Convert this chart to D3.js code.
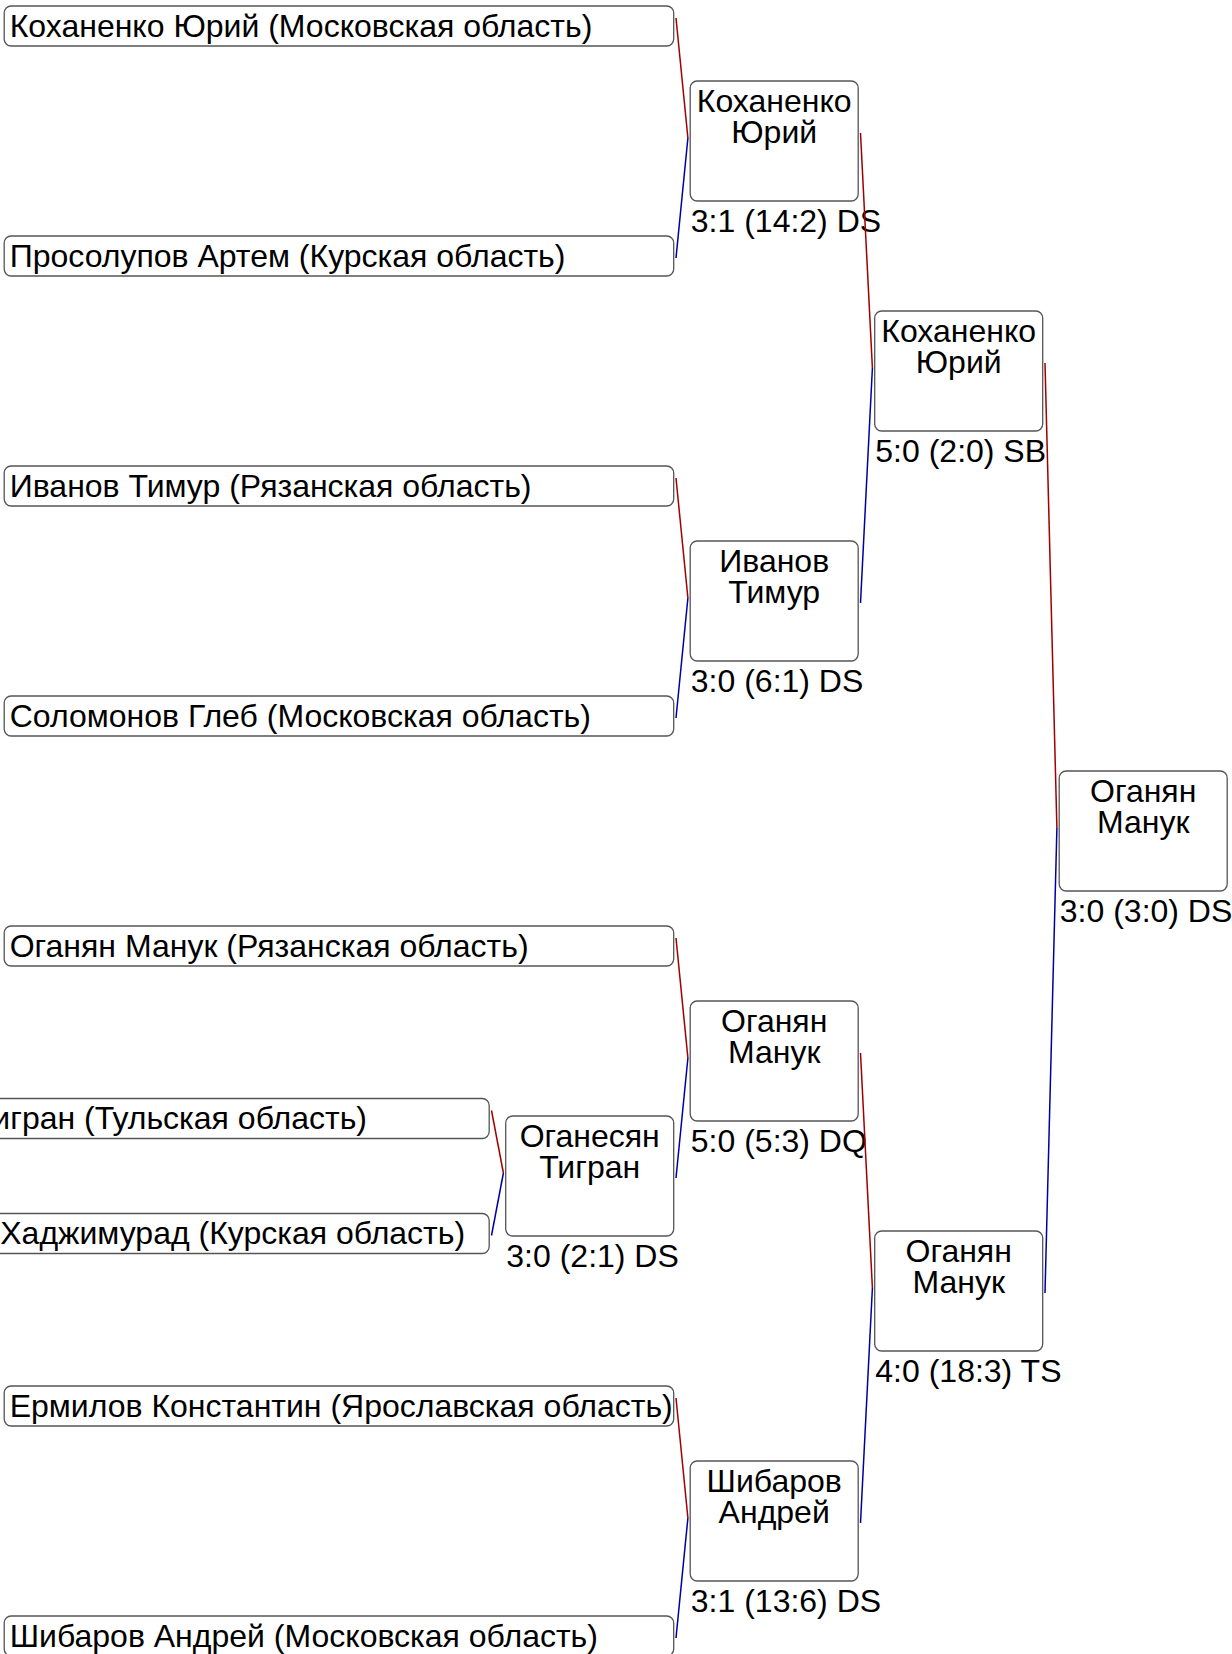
<!DOCTYPE html>
<html>
<head>
<meta charset="utf-8">
<script src="https://cdn.jsdelivr.net/npm/d3@7"></script>
<style>
  html, body { margin: 0; padding: 0; background: #fff; }
  svg { display: block; }
  text { font-family: "Liberation Sans", Arial, sans-serif; fill: #000; }
</style>
</head>
<body>
<script>
// ---- Data ----
const entrantIds = ["e0","e1","e2","e3","e4","e5","e6","e7","e8"];
const entrantNames = ["Коханенко Юрий","Просолупов Артем","Иванов Тимур","Соломонов Глеб","Оганян Манук","Оганесян Тигран","Магомедов Хаджимурад","Ермилов Константин","Шибаров Андрей"];
const entrantRegions = ["Московская область","Курская область","Рязанская область","Московская область","Рязанская область","Тульская область","Курская область","Ярославская область","Московская область"];

const matchIds = ["F","SF1","SF2","QF1","QF2","QF3","QF4","R1"];
const matchRed = ["SF1","QF1","QF3","e0","e2","e4","e7","e5"];
const matchBlue = ["SF2","QF2","QF4","e1","e3","R1","e8","e6"];
const matchWinners = ["Оганян Манук","Коханенко Юрий","Оганян Манук","Коханенко Юрий","Иванов Тимур","Оганян Манук","Шибаров Андрей","Оганесян Тигран"];
const matchScores = ["3:0 (3:0) DS","5:0 (2:0) SB","4:0 (18:3) TS","3:1 (14:2) DS","3:0 (6:1) DS","5:0 (5:3) DQ","3:1 (13:6) DS","3:0 (2:1) DS"];

// ---- Build tree ----
function build(id) {
  const ei = entrantIds.indexOf(id);
  if (ei >= 0) return { id, leaf: true, name: entrantNames[ei], region: entrantRegions[ei] };
  const mi = matchIds.indexOf(id);
  return { id, leaf: false, winner: matchWinners[mi], score: matchScores[mi],
           children: [build(matchRed[mi]), build(matchBlue[mi])] };
}
const root = d3.hierarchy(build("F"));

// bracket slot intervals
root.lo = 0; root.hi = 16;
root.each(n => {
  if (n.children) {
    const mid = (n.lo + n.hi) / 2;
    n.children[0].lo = n.lo; n.children[0].hi = mid;
    n.children[1].lo = mid;  n.children[1].hi = n.hi;
  }
});

const W = 1232, H = 1654;
const FS = 32;
const y = d3.scaleLinear().domain([0, 16]).range([-89, 1751]);
const x = d3.scaleLinear().domain([0, 3]).range([505.7, 1059.2]);
const matchW = 168, matchH = 120, leafW = 669.5, leafH = 40;

root.each(n => {
  const col = 3 - n.depth;
  const right = x(col) + matchW;
  const cy = y((n.lo + n.hi) / 2);
  if (n.data.leaf) {
    n.bx = right - leafW; n.bw = leafW; n.bh = leafH;
  } else {
    n.bx = x(col); n.bw = matchW; n.bh = matchH;
  }
  n.by = cy - n.bh / 2;
  n.cy = cy;
  n.anchor = cy - 3;
});

const svg = d3.select("body").append("svg").attr("width", W).attr("height", H);

const nodes = root.descendants();

// boxes
svg.append("g").selectAll("rect").data(nodes).join("rect")
  .attr("x", d => d.bx).attr("y", d => d.by)
  .attr("width", d => d.bw).attr("height", d => d.bh)
  .attr("rx", 7).attr("ry", 7)
  .attr("fill", "#fff").attr("stroke", "#555").attr("stroke-width", 1.3);

// leaf labels
svg.append("g").selectAll("text").data(nodes.filter(d => d.data.leaf)).join("text")
  .attr("x", d => d.bx + 5.5).attr("y", d => d.by + 30.5)
  .attr("font-size", FS)
  .text(d => `${d.data.name} (${d.data.region})`);

// match winner labels
const mg = svg.append("g").selectAll("g").data(nodes.filter(d => !d.data.leaf)).join("g");
mg.each(function(d) {
  const parts = d.data.winner.split(" ");
  const g = d3.select(this);
  parts.forEach((p, i) => {
    g.append("text").attr("x", d.bx + d.bw / 2).attr("y", d.by + 30.8 + i * 31.6)
      .attr("text-anchor", "middle").attr("font-size", FS).text(p);
  });
  g.append("text").attr("x", d.bx + 0.6).attr("y", d.by + d.bh + 31)
    .attr("font-size", FS).text(d.data.score);
});

// connector lines
const lg = svg.append("g").attr("fill", "none").attr("stroke-width", 1.5);
nodes.filter(d => d.children).forEach(p => {
  const px = p.bx - 2.3, py = p.anchor;
  const [r, b] = p.children;
  lg.append("line").attr("x1", r.bx + r.bw + 2.3).attr("y1", r.anchor - 5)
    .attr("x2", px).attr("y2", py).attr("stroke", "#a00000");
  lg.append("line").attr("x1", px).attr("y1", py)
    .attr("x2", b.bx + b.bw + 2.3).attr("y2", b.anchor + 5).attr("stroke", "#0000a0");
});
</script>
</body>
</html>
